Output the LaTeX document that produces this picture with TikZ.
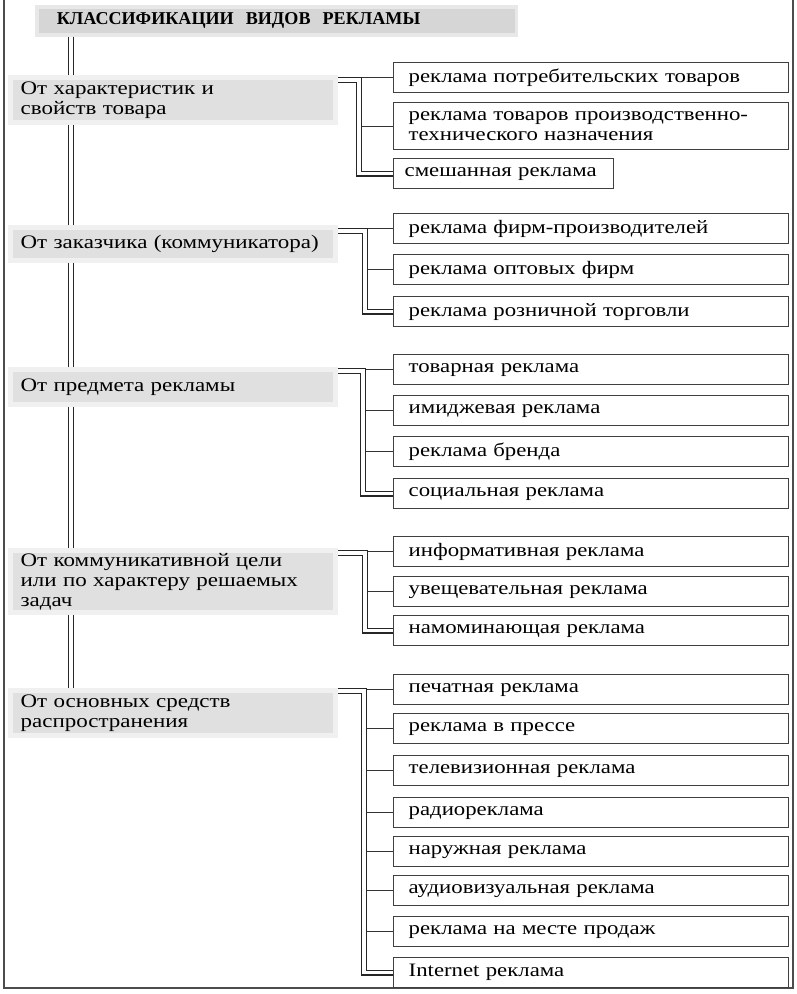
\documentclass[tikz,border=0pt]{standalone}
\usepackage{fontspec}
\setmainfont[FakeStretch=1.2]{Liberation Serif}
\newfontfamily\headfont{Liberation Serif}
\usepackage{tikz}
\usetikzlibrary{calc}

\tikzset{
  headbox/.style={fill=gray!32, draw=gray!18, line width=2pt, anchor=north west,
    minimum width=9.6cm, minimum height=0.56cm, inner xsep=0.4cm,
    text width=8.8cm, align=left, font=\headfont\bfseries\fontsize{10.3}{12}\selectfont},
  catbox/.style={fill=gray!24, draw=gray!12, line width=3pt, anchor=north west,
    inner xsep=0.2cm, inner ysep=0pt, text width=6.1cm, align=left,
    font=\fontsize{10.9}{11.4}\selectfont},
  itembox/.style={draw=black!75, line width=0.8pt, fill=white, anchor=north west,
    inner xsep=0.3cm, inner ysep=0pt, text width=7.3cm, align=left,
    minimum height=0.6cm, font=\fontsize{10.8}{11}\selectfont},
  bus/.style={double=white, double distance=2pt, line width=0.6pt, draw=black!85},
  tick/.style={line width=0.7pt, draw=black!80},
}

\begin{document}
\begin{tikzpicture}[x=0.02cm, y=-0.02cm]
  \useasboundingbox (0,0) rectangle (796,994);
  % Frame
  \draw[line width=1pt, black!70] (4,0) -- (4,988) -- (793,988) -- (793,0);
  % Heading and main line
  \node[headbox] (head) at (35,5) {КЛАССИФИКАЦИИ\ \ ВИДОВ\ \ РЕКЛАМЫ};
  \coordinate (trunkend) at (71,690);
  \draw[bus, double distance=2.6pt] (head.south -| trunkend) -- (trunkend);

  % Groups of classification
  \node[catbox, minimum height=0.9cm] (c1) at (8,75)
    {От характеристик и\\свойств товара};
  \node[catbox, minimum height=0.66cm] (c2) at (8,225)
    {От заказчика (коммуникатора)};
  \node[catbox, minimum height=0.7cm] (c3) at (8,367)
    {От предмета рекламы};
  \node[catbox, minimum height=1.24cm] (c4) at (8,548)
    {От коммуникативной цели\\или по характеру решаемых\\задач};
  \node[catbox, minimum height=0.9cm] (c5) at (8,688)
    {От основных средств\\распространения};

  % Kinds of advertising
  \node[itembox] (g1a) at (393,62) {реклама потребительских товаров};
  \node[itembox, minimum height=0.94cm] (g1b) at (393,102)
    {реклама товаров производственно-\\технического назначения};
  \node[itembox, inner xsep=0.22cm, text width=3.96cm] (g1c) at (393,158) {смешанная реклама};

  \node[itembox] (g2a) at (393,213) {реклама фирм-производителей};
  \node[itembox] (g2b) at (393,254) {реклама оптовых фирм};
  \node[itembox] (g2c) at (393,296) {реклама розничной торговли};

  \node[itembox] (g3a) at (393,354) {товарная реклама};
  \node[itembox] (g3b) at (393,395) {имиджевая реклама};
  \node[itembox] (g3c) at (393,436) {реклама бренда};
  \node[itembox] (g3d) at (393,478) {социальная реклама};

  \node[itembox] (g4a) at (393,536) {информативная реклама};
  \node[itembox] (g4b) at (393,576) {увещевательная реклама};
  \node[itembox] (g4c) at (393,615) {намоминающая реклама};

  \node[itembox] (g5a) at (393,674) {печатная реклама};
  \node[itembox] (g5b) at (393,713) {реклама в прессе};
  \node[itembox] (g5c) at (393,755) {телевизионная реклама};
  \node[itembox] (g5d) at (393,797) {радиореклама};
  \node[itembox] (g5e) at (393,836) {наружная реклама};
  \node[itembox] (g5f) at (393,875) {аудиовизуальная реклама};
  \node[itembox] (g5g) at (393,916) {реклама на месте продаж};
  \node[itembox] (g5h) at (393,957) {Internet реклама};

  % Branches
  \coordinate (b1) at (359,80);
  \draw[tick] (b1 |- g1a.west) -- (g1a.west);
  \draw[tick] (b1 |- g1b.west) -- (g1b.west);
  \draw[bus] (c1.east |- b1) -- (b1) |- (g1c.west);

  \coordinate (b2) at (365,231);
  \draw[tick] (b2 |- g2a.west) -- (g2a.west);
  \draw[tick] (b2 |- g2b.west) -- (g2b.west);
  \draw[bus] (c2.east |- b2) -- (b2) |- (g2c.west);

  \coordinate (b3) at (363,371);
  \draw[tick] (b3 |- g3a.west) -- (g3a.west);
  \draw[tick] (b3 |- g3b.west) -- (g3b.west);
  \draw[tick] (b3 |- g3c.west) -- (g3c.west);
  \draw[bus] (c3.east |- b3) -- (b3) |- (g3d.west);

  \coordinate (b4) at (365,553);
  \draw[tick] (b4 |- g4a.west) -- (g4a.west);
  \draw[tick] (b4 |- g4b.west) -- (g4b.west);
  \draw[bus] (c4.east |- b4) -- (b4) |- (g4c.west);

  \coordinate (b5) at (364,691);
  \draw[tick] (b5 |- g5a.west) -- (g5a.west);
  \draw[tick] (b5 |- g5b.west) -- (g5b.west);
  \draw[tick] (b5 |- g5c.west) -- (g5c.west);
  \draw[tick] (b5 |- g5d.west) -- (g5d.west);
  \draw[tick] (b5 |- g5e.west) -- (g5e.west);
  \draw[tick] (b5 |- g5f.west) -- (g5f.west);
  \draw[tick] (b5 |- g5g.west) -- (g5g.west);
  \draw[bus] (c5.east |- b5) -- (b5) |- (g5h.west);
\end{tikzpicture}
\end{document}
